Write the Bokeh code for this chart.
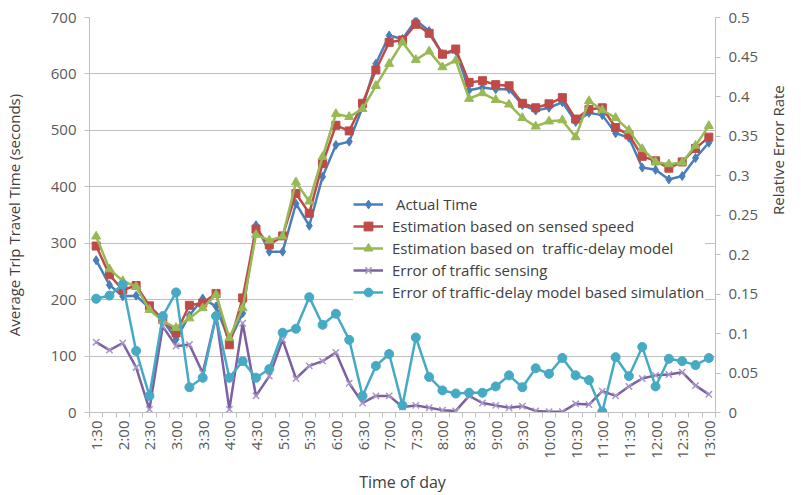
import math
from bokeh.plotting import figure
from bokeh.models import (Range1d, LinearAxis, FixedTicker, SingleIntervalTicker,
                          CustomJSTickFormatter, Legend, LegendItem)
from bokeh.embed import file_html
from bokeh.resources import INLINE

# Time of day, every 15 minutes
times = ["1:30", "1:45", "2:00", "2:15", "2:30", "2:45", "3:00", "3:15", "3:30", "3:45",
         "4:00", "4:15", "4:30", "4:45", "5:00", "5:15", "5:30", "5:45", "6:00", "6:15",
         "6:30", "6:45", "7:00", "7:15", "7:30", "7:45", "8:00", "8:15", "8:30", "8:45",
         "9:00", "9:15", "9:30", "9:45", "10:00", "10:15", "10:30", "10:45", "11:00", "11:15",
         "11:30", "11:45", "12:00", "12:15", "12:30", "12:45", "13:00"]

# Average trip travel time (seconds)
actual_time = [270, 226, 206, 207, 185, 163, 130, 172, 202, 188,
               126, 176, 332, 285, 285, 370, 331, 418, 474, 480,
               541, 618, 668, 662, 695, 676, 635, 641, 571, 576,
               573, 573, 545, 535, 540, 550, 515, 531, 527, 495,
               487, 434, 430, 413, 419, 451, 478]
est_sensed_speed = [295, 244, 217, 225, 189, 165, 141, 190, 194, 211,
                    120, 203, 325, 297, 313, 388, 353, 441, 509, 499,
                    548, 607, 656, 660, 688, 672, 635, 644, 585, 588,
                    581, 579, 548, 540, 547, 558, 520, 537, 540, 505,
                    492, 454, 446, 433, 444, 468, 488]
est_delay_model = [312, 254, 233, 223, 182, 162, 150, 167, 185, 209,
                   132, 185, 315, 305, 312, 408, 374, 453, 529, 524,
                   538, 579, 618, 656, 625, 640, 612, 624, 556, 566,
                   554, 546, 522, 507, 516, 518, 488, 552, 536, 522,
                   500, 467, 444, 440, 443, 473, 508]

# Relative error rates
err_sensing = [0.089, 0.079, 0.088, 0.057, 0.004, 0.109, 0.084, 0.086, 0.050, 0.122,
               0.004, 0.113, 0.021, 0.046, 0.092, 0.043, 0.059, 0.065, 0.076, 0.037,
               0.012, 0.021, 0.021, 0.007, 0.009, 0.006, 0.003, 0.002, 0.021, 0.012,
               0.009, 0.006, 0.008, 0.002, 0.001, 0.001, 0.011, 0.010, 0.027, 0.021,
               0.033, 0.043, 0.047, 0.048, 0.051, 0.034, 0.023]
err_delay_sim = [0.144, 0.148, 0.162, 0.078, 0.021, 0.122, 0.152, 0.032, 0.044, 0.122,
                 0.044, 0.065, 0.044, 0.055, 0.101, 0.106, 0.146, 0.111, 0.125, 0.092,
                 0.021, 0.059, 0.074, 0.009, 0.095, 0.045, 0.028, 0.024, 0.025, 0.025,
                 0.033, 0.047, 0.032, 0.056, 0.049, 0.069, 0.047, 0.041, 0.001, 0.070,
                 0.046, 0.083, 0.033, 0.068, 0.065, 0.060, 0.069]

x = list(range(len(times)))

FONT = "Open Sans"
TXT = "#595959"
TITLE = "#404040"
GRID = "#bfbfbf"

p = figure(width=801, height=495, output_backend="svg", toolbar_location=None,
           x_range=Range1d(-0.5, len(times) - 0.5), y_range=Range1d(0, 700),
           min_border_left=89, min_border_right=86, min_border_top=17, min_border_bottom=82)
p.extra_y_ranges = {"err": Range1d(0, 0.5)}
p.outline_line_color = None
p.background_fill_color = "white"
p.border_fill_color = "white"

# x axis: labels every half hour, tick marks between categories
xa = p.xaxis[0]
xa.ticker = FixedTicker(ticks=x[::2], minor_ticks=[i - 0.5 for i in range(len(times) + 1)])
xa.major_label_overrides = {i: times[i] for i in x[::2]}
xa.major_label_orientation = math.pi / 2
xa.major_tick_out = 0
xa.major_tick_in = 0
xa.minor_tick_out = 5
xa.minor_tick_in = 0
xa.minor_tick_line_color = GRID
xa.axis_line_color = GRID
xa.major_label_text_font = FONT
xa.major_label_text_font_size = "15px"
xa.major_label_text_color = TXT
xa.major_label_standoff = 3
xa.axis_label = "Time of day"
xa.axis_label_text_font = FONT
xa.axis_label_text_font_size = "16px"
xa.axis_label_text_font_style = "normal"
xa.axis_label_text_color = TITLE
xa.axis_label_standoff = 9

ya = p.yaxis[0]
ya.ticker = SingleIntervalTicker(interval=100)
ya.minor_tick_line_color = None
ya.major_tick_out = 5
ya.major_tick_in = 0
ya.major_tick_line_color = GRID
ya.axis_line_color = GRID
ya.major_label_text_font = FONT
ya.major_label_text_font_size = "15px"
ya.major_label_text_color = TXT
ya.major_label_standoff = 8
ya.axis_label = "Average Trip Travel Time (seconds)"
ya.axis_label_text_font = FONT
ya.axis_label_text_font_size = "15px"
ya.axis_label_text_font_style = "normal"
ya.axis_label_text_color = TITLE
ya.axis_label_standoff = 24

ra = LinearAxis(y_range_name="err", ticker=SingleIntervalTicker(interval=0.05),
                formatter=CustomJSTickFormatter(
                    code="return tick.toFixed(2).replace(/0+$/, '').replace(/\\.$/, '');"))
ra.minor_tick_line_color = None
ra.major_tick_out = 5
ra.major_tick_in = 0
ra.major_tick_line_color = GRID
ra.axis_line_color = GRID
ra.major_label_text_font = FONT
ra.major_label_text_font_size = "15px"
ra.major_label_text_color = TXT
ra.major_label_standoff = 8
ra.axis_label = "Relative Error Rate"
ra.axis_label_text_font = FONT
ra.axis_label_text_font_size = "15px"
ra.axis_label_text_font_style = "normal"
ra.axis_label_text_color = TITLE
ra.axis_label_standoff = 17
ra.axis_label_orientation = math.pi / 2
p.add_layout(ra, "right")

p.xgrid.grid_line_color = None
p.ygrid.grid_line_color = GRID
p.ygrid.grid_line_width = 1

items = []

def series(label, values, color, marker, size, range_name="default", marker_color=None):
    mc = marker_color or color
    ln = p.line(x, values, line_color=color, line_width=2.5, y_range_name=range_name)
    kw = dict(marker=marker, size=size, y_range_name=range_name, line_color=mc)
    if marker == "x":
        kw.update(line_width=1.5)
    else:
        kw.update(fill_color=mc)
    sc = p.scatter(x, values, **kw)
    items.append(LegendItem(label=label, renderers=[ln, sc]))

series(" Actual Time", actual_time, "#4A7EBB", "diamond", 9)
series("Estimation based on sensed speed", est_sensed_speed, "#BE4B48", "square", 8)
series("Estimation based on  traffic-delay model", est_delay_model, "#98B954", "triangle", 9)
series("Error of traffic sensing", err_sensing, "#7D60A0", "x", 9, "err", "#A996C8")
series("Error of traffic-delay model based simulation", err_delay_sim, "#46AAC5", "circle", 9, "err")

legend = Legend(items=items, location=(264, 109), background_fill_color="white",
                background_fill_alpha=1.0, border_line_color=None,
                label_text_font=FONT, label_text_font_size="15px", label_text_color=TITLE,
                glyph_width=30, glyph_height=22, label_height=22, spacing=0,
                label_standoff=9, label_width=313, padding=4, margin=0)
p.add_layout(legend, "center")

open("out.html", "w").write(file_html(p, INLINE))
